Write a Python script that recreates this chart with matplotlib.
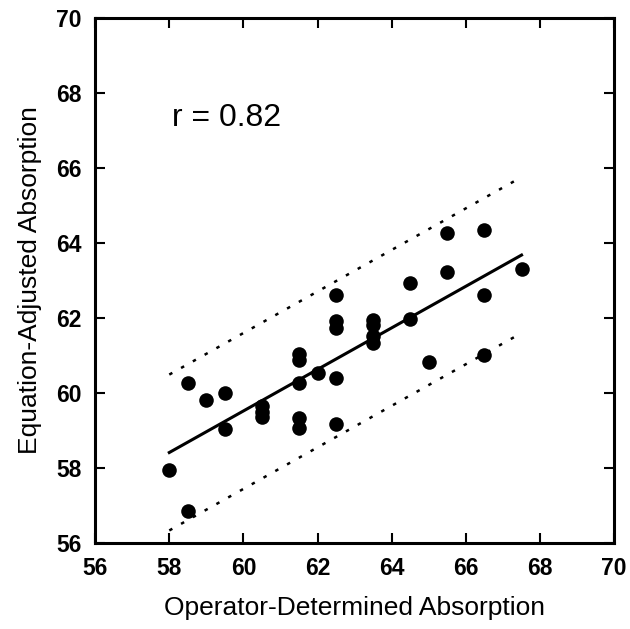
import numpy as np
import matplotlib.pyplot as plt

plt.rcParams['font.family'] = ['Liberation Sans', 'DejaVu Sans']

# operator-determined vs equation-adjusted absorption
operator = [58.0, 58.5, 58.5, 59.0, 59.5, 59.5,
            60.5, 60.5, 60.5,
            61.5, 61.5, 61.5, 61.5, 61.5, 62.0,
            62.5, 62.5, 62.5, 62.5, 62.5,
            63.5, 63.5, 63.5, 63.5,
            64.5, 64.5, 65.0, 65.5, 65.5,
            66.5, 66.5, 66.5, 67.5]
adjusted = [57.95, 56.85, 60.27, 59.81, 59.99, 59.05,
            59.65, 59.5, 59.35,
            61.04, 60.88, 60.27, 59.33, 59.06, 60.52,
            62.62, 61.93, 61.72, 60.39, 59.17,
            61.95, 61.82, 61.52, 61.32,
            62.93, 61.97, 60.82, 64.26, 63.24,
            64.36, 62.61, 61.01, 63.31]

# fitted line and prediction band
fit_x = np.array([58.0, 67.5])
fit_y = np.array([58.41, 63.68])
band = 2.08
r_text = 'r = 0.82'

fig = plt.figure(figsize=(6.3, 6.29), dpi=100)
ax = fig.add_axes([0.151, 0.137, 0.824, 0.834])

ax.scatter(operator, adjusted, s=110, color='black', zorder=3, linewidths=0)
ax.plot(fit_x, fit_y, color='black', lw=2.2)
ax.plot(fit_x, fit_y + band, color='black', lw=1.8, linestyle=(0, (1.4, 4.0)))
ax.plot(fit_x, fit_y - band, color='black', lw=1.8, linestyle=(0, (1.4, 4.0)))

ax.text(58.08, 67.33, r_text, fontsize=23, va='center', ha='left')

ax.set_xlim(56, 70)
ax.set_ylim(56, 70)
ax.set_xticks(np.arange(56, 71, 2))
ax.set_yticks(np.arange(56, 71, 2))
ax.tick_params(direction='in', length=7, width=1.5, top=True, right=True,
               labelsize=16.5, pad=10)
for lab in ax.get_xticklabels() + ax.get_yticklabels():
    lab.set_fontweight('bold')
for sp in ax.spines.values():
    sp.set_linewidth(2.2)

ax.set_xlabel('Operator-Determined Absorption', fontsize=19, labelpad=12)
ax.set_ylabel('Equation-Adjusted Absorption', fontsize=19, labelpad=10)

fig.savefig('out.png', dpi=100)
